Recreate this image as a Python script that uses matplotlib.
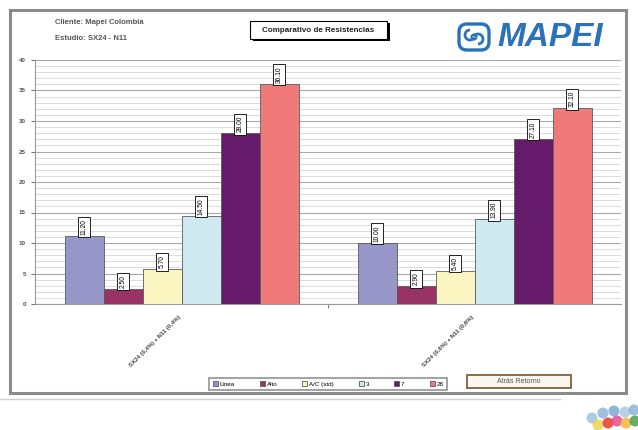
"""Comparativo de Resistencias - clustered column chart (Excel style)."""

import matplotlib.pyplot as plt
import numpy as np
from matplotlib.patches import FancyBboxPatch, Rectangle, Arc, Ellipse

# ---- data -------------------------------------------------------------
CATEGORIES = ["SX24 (0,4%) + N11 (0,4%)", "SX24 (0,6%) + N11 (0,6%)"]
SERIES = ["Linea", "Alto", "A/C (std)", "3", "7", "28"]
VALUES = [
    [11.2, 10.0],   # Linea
    [2.5, 2.9],     # Alto
    [5.7, 5.4],     # A/C (std)
    [14.5, 13.9],   # 3
    [28.0, 27.1],   # 7
    [36.1, 32.1],   # 28
]
COLORS = ["#9696c8", "#993366", "#fbf5c2", "#cfe9f1", "#661a6a", "#f07a7a"]
Y_TICKS = [0, 5, 10, 15, 20, 25, 30, 35, 40]

W, H = 638, 430


def fx(px):
    return px / W


def fy(py):
    return 1 - py / H


plt.rcParams["font.family"] = ["Liberation Sans", "DejaVu Sans"]
fig = plt.figure(figsize=(6.38, 4.30), dpi=100)
fig.patch.set_facecolor("white")

# outer chart frame (behind the axes)
fig.patches.append(Rectangle((fx(10), fy(393)), fx(616), 383 / H, transform=fig.transFigure,
                             facecolor="white", edgecolor="#8a8a8a", lw=2.2, zorder=-5))
fig.lines.append(plt.Line2D([0, fx(560)], [fy(399), fy(399)], transform=fig.transFigure,
                            color="#d0d0d0", lw=1.0, zorder=-5))

# ---- main axes --------------------------------------------------------
ax = fig.add_axes([fx(35), fy(304), fx(586), 244 / H])
ax.set_facecolor("white")

n = len(SERIES)
bw = 39 / 293
x = np.arange(len(CATEGORIES))
for i, (name, vals, col) in enumerate(zip(SERIES, VALUES, COLORS)):
    xs = x + (i - (n - 1) / 2) * bw
    ax.bar(xs, vals, width=bw, color=col, edgecolor="#5a5a5a", lw=0.6,
           label=name, zorder=3)
    for xi, v in zip(xs, vals):
        ax.text(xi, v + 0.15, f"{v:.2f}", rotation=90, ha="center", va="bottom",
                fontsize=4.8, zorder=5, clip_on=False,
                bbox=dict(boxstyle="square,pad=0.35", fc="white", ec="black", lw=0.6))

ax.set_xlim(-0.5, 1.5)
ax.set_ylim(0, 40)
ax.set_yticks(Y_TICKS)
ax.set_yticks(np.arange(0, 41, 1), minor=True)
ax.grid(axis="y", which="minor", color="#d6d6d6", lw=0.6, zorder=0)
ax.grid(axis="y", which="major", color="#a8a8a8", lw=0.8, zorder=1)
ax.set_axisbelow(True)
ax.tick_params(axis="y", which="major", labelsize=4.5, colors="#555555", length=3, width=0.6)
for t in ax.get_yticklabels():
    t.set_fontweight("bold")
ax.tick_params(axis="y", which="minor", length=0)
ax.set_xticks([0.5])
ax.set_xticklabels([""])
ax.tick_params(axis="x", length=3, width=0.6, colors="#666666")
for s in ["top", "right"]:
    ax.spines[s].set_visible(False)
for s in ["left", "bottom"]:
    ax.spines[s].set_color("#9a9a9a")
    ax.spines[s].set_linewidth(0.8)

for xi, lab in zip(x, CATEGORIES):
    ax.annotate(lab, xy=(xi, 0), xytext=(-2, -8), textcoords="offset points",
                rotation=45, ha="right", va="top", fontsize=4.3, color="#444444",
                rotation_mode="anchor", fontweight="bold", annotation_clip=False)

# ---- legend -----------------------------------------------------------
leg = fig.legend(*ax.get_legend_handles_labels(), loc="center",
                 bbox_to_anchor=(fx(328), fy(384)), ncol=6, fontsize=4.5,
                 frameon=True, fancybox=False, edgecolor="#777777",
                 handlelength=0.8, handleheight=0.8, handletextpad=0.3,
                 columnspacing=4.0, borderpad=0.5)
leg.get_frame().set_linewidth(1.2)

# back button
fig.patches.append(Rectangle((fx(467), fy(388)), fx(104), 13 / H, transform=fig.transFigure,
                             facecolor="#fbf6ee", edgecolor="#8b6a48", lw=1.4))
fig.text(fx(519), fy(381.5), "Atrás Retorno", ha="center", va="center",
         fontsize=5, color="#555555")

# ---- header texts -----------------------------------------------------
fig.text(fx(55), fy(23), "Cliente: Mapei Colombia", fontsize=5.5, fontweight="bold",
         color="#555555", va="center")
fig.text(fx(55), fy(38), "Estudio: SX24 - N11", fontsize=5.5, fontweight="bold",
         color="#555555", va="center")

# title box with shadow
fig.patches.append(Rectangle((fx(253), fy(41)), fx(137), 18 / H, transform=fig.transFigure,
                             facecolor="black", edgecolor="black", lw=0))
fig.patches.append(Rectangle((fx(250), fy(39)), fx(137), 18 / H, transform=fig.transFigure,
                             facecolor="white", edgecolor="black", lw=0.8))
fig.text(fx(318.5), fy(30), "Comparativo de Resistencias", ha="center", va="center",
         fontsize=5.8, fontweight="bold", color="#222222")

# MAPEI logo
blue = "#2a73bb"
fig.text(fx(497), fy(37), "MAPEI", fontsize=24, fontweight="bold", style="italic",
         color=blue, va="center", ha="left")
lax = fig.add_axes([fx(455), fy(53), fx(38), 32 / H])
lax.set_xlim(0, 38)
lax.set_ylim(0, 32)
lax.set_aspect("equal")
lax.axis("off")
lax.add_patch(FancyBboxPatch((4, 3), 30, 26, boxstyle="round,pad=0,rounding_size=8",
                             fc="white", ec=blue, lw=2.4))
lax.add_patch(Arc((15, 18), 10, 10, theta1=90, theta2=330, color=blue, lw=2.0))
lax.add_patch(Arc((23, 14), 10, 10, theta1=270, theta2=150, color=blue, lw=2.0))
lax.add_patch(Arc((19, 16), 5, 5, theta1=0, theta2=360, color=blue, lw=1.5))

# colourful corner decoration
dots = [(592, 418, "#9cc3de"), (603, 413, "#8fb6d8"), (614, 411, "#7aaad0"),
        (625, 412, "#a9c9e0"), (634, 410, "#8ab5d6"), (598, 425, "#f2d34a"),
        (608, 423, "#e63a2e"), (617, 421, "#e14f8f"), (626, 423, "#f3b534"),
        (635, 421, "#4e9e4a")]
for px, py, c in dots:
    fig.patches.append(Ellipse((fx(px), fy(py)), fx(11), 11 / H,
                               transform=fig.transFigure, facecolor=c, edgecolor="none",
                               alpha=0.85))

fig.savefig("out.png", dpi=100)
